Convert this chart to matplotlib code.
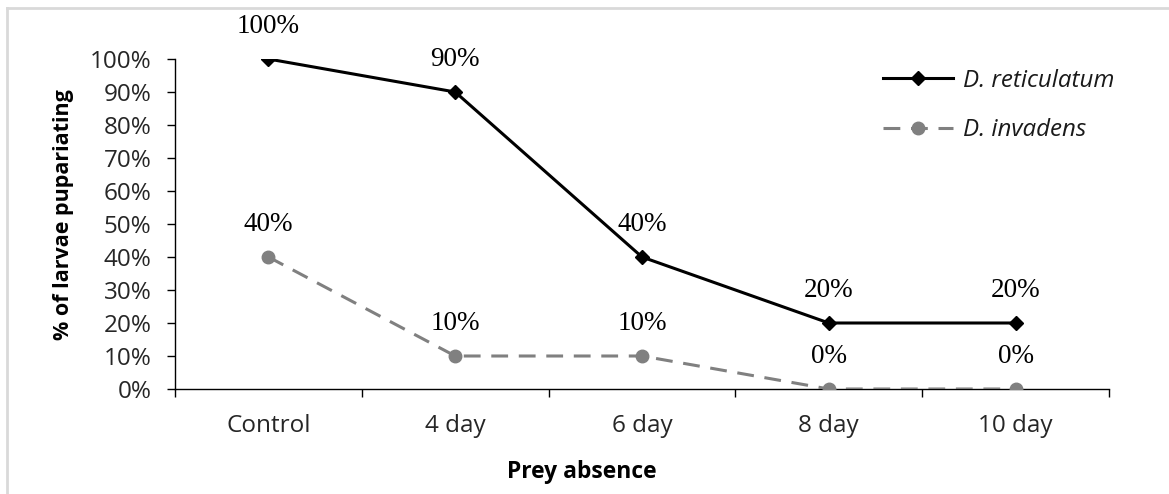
import matplotlib.pyplot as plt
from matplotlib.lines import Line2D
from matplotlib.ticker import FixedLocator, PercentFormatter

# Pupariation rates by length of prey absence
categories = ['Control', '4 day', '6 day', '8 day', '10 day']
reticulatum = [1.00, 0.90, 0.40, 0.20, 0.20]
invadens = [0.40, 0.10, 0.10, 0.00, 0.00]
series_names = ['D. reticulatum', 'D. invadens']

sans = 'Open Sans'
serif = 'Liberation Serif'

fig = plt.figure(figsize=(11.69, 4.94), dpi=100)
ax = fig.add_axes([175 / 1169, 105 / 494, 934 / 1169, 330 / 494])

x = list(range(len(categories)))
ax.plot(x, reticulatum, color='black', linewidth=2.2, marker='D',
        markersize=7.5, label=series_names[0], zorder=3)
ax.plot(x, invadens, color='#808080', linewidth=2.2, linestyle=(0, (5.5, 3.5)),
        marker='o', markersize=9, label=series_names[1], zorder=3)

# value labels above each point
for vals in [reticulatum, invadens]:
    for xi, v in zip(x, vals):
        ax.annotate(f'{v:.0%}', (xi, v), xytext=(0, 14.5), textcoords='offset points',
                    ha='center', va='bottom', fontsize=19.5, family=serif)

ax.set_xlim(-0.5, len(categories) - 0.5)
ax.set_ylim(0, 1)

# category boundaries get the tick marks, centres get the labels
ax.xaxis.set_major_locator(FixedLocator([i - 0.5 for i in range(len(categories) + 1)]))
ax.xaxis.set_minor_locator(FixedLocator(x))
ax.set_xticklabels([''] * (len(categories) + 1))
ax.set_xticklabels(categories, minor=True)
ax.tick_params(axis='x', which='major', direction='out', length=6, width=1)
ax.tick_params(axis='x', which='minor', length=0, pad=18, labelsize=17.5)

ax.set_yticks([i / 10 for i in range(11)])
ax.yaxis.set_major_formatter(PercentFormatter(1.0, decimals=0))
ax.tick_params(axis='y', direction='out', length=6, width=1, pad=11, labelsize=17.5)

for lbl in ax.get_xticklabels(minor=True) + ax.get_yticklabels():
    lbl.set_family(sans)
    lbl.set_color('#262626')

for side in ['top', 'right']:
    ax.spines[side].set_visible(False)
ax.spines['left'].set_linewidth(1)
ax.spines['bottom'].set_linewidth(1)

# axis titles
fig.text(582 / 1169, 1 - 472 / 494, 'Prey absence', fontsize=16.5, fontweight='bold',
         family=sans, ha='center', va='center')
fig.text(63 / 1169, 1 - 215 / 494, '% of larvae pupariating', fontsize=15.5,
         fontweight='bold', family=sans, rotation=90, ha='center', va='center')

leg = ax.legend(loc='upper left', bbox_to_anchor=(0.748, 1.0), borderaxespad=0,
                frameon=False, handlelength=2.9, handletextpad=0.4, labelspacing=1.05,
                prop={'family': sans, 'style': 'italic', 'size': 17.4})
for t in leg.get_texts():
    t.set_color('#1a1a1a')

# light frame around the chart area
fig.add_artist(Line2D([7 / 1169, 1.0], [1 - 8 / 494, 1 - 8 / 494], color='#d9d9d9',
                      linewidth=2, transform=fig.transFigure))
fig.add_artist(Line2D([7 / 1169, 7 / 1169], [0.0, 1 - 8 / 494], color='#d9d9d9',
                      linewidth=2, transform=fig.transFigure))

fig.savefig('out.png', dpi=100, facecolor='white')
